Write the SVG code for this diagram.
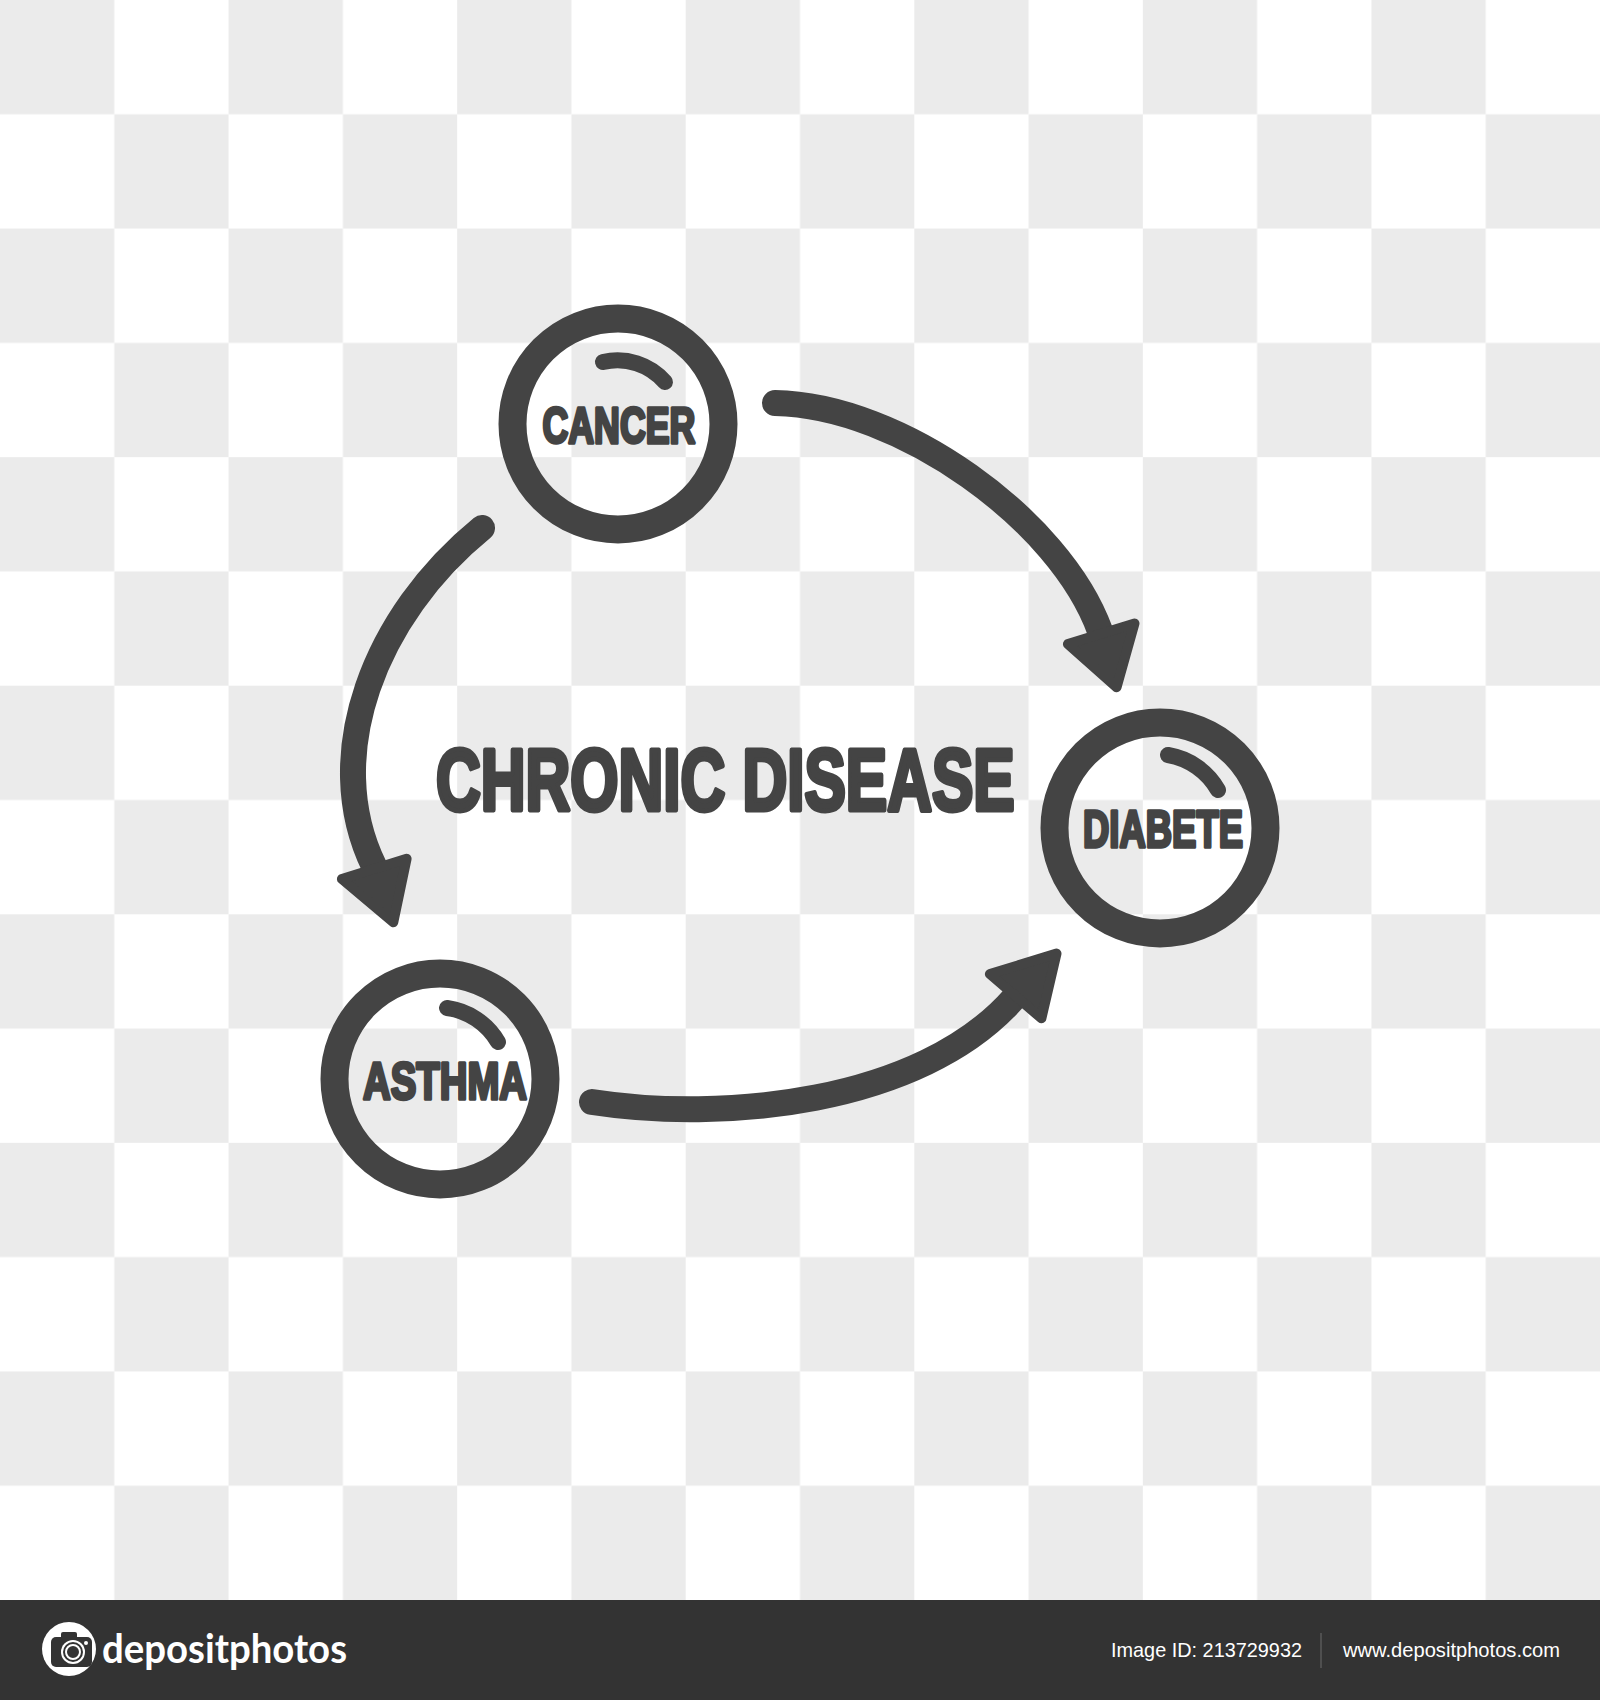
<svg xmlns="http://www.w3.org/2000/svg" width="1600" height="1700" viewBox="0 0 1600 1700">
  <defs>
    <pattern id="checker" x="0" y="0" width="228.5714" height="228.5714" patternUnits="userSpaceOnUse">
      <rect x="0" y="0" width="228.5714" height="228.5714" fill="#ffffff"/>
      <rect x="0" y="0" width="114.2857" height="114.2857" fill="#ebebeb"/>
      <rect x="114.2857" y="114.2857" width="114.2857" height="114.2857" fill="#ebebeb"/>
    </pattern>
    <style>
      .ring { fill: none; stroke: #444444; stroke-width: 28; }
      .tick { fill: none; stroke: #444444; stroke-width: 16; stroke-linecap: round; }
      .lbl { font-family: "Liberation Sans", Arial, sans-serif; font-weight: bold; fill: #444444; stroke: #444444; stroke-width: 3.5; stroke-linejoin: round; }
      .title { font-family: "Liberation Sans", Arial, sans-serif; font-weight: bold; fill: #444444; stroke: #444444; stroke-width: 5; stroke-linejoin: round; }
      .conn { fill: none; stroke: #444444; stroke-width: 26; stroke-linecap: round; }
      .head { fill: #444444; stroke: #444444; stroke-width: 10; stroke-linejoin: round; }
      .foot { font-family: "Liberation Sans", Arial, sans-serif; fill: #ffffff; font-size: 21px; }
    </style>
  </defs>

  <!-- background -->
  <rect x="0" y="0" width="1600" height="1600" fill="url(#checker)"/>

  <!-- connectors -->
  <g id="connectors">
    <path class="conn" d="M482,528 C375,615 320,755 374,866"/>
    <polygon class="head" points="341.9,879 406.6,858.7 393.3,922.3"/>
    <path class="conn" d="M775,403 C900,405 1060,520 1100,631"/>
    <polygon class="head" points="1067.9,644 1134.5,623.5 1116.6,687.2"/>
    <path class="conn" d="M592,1102 C720,1122 920,1105 1014,998"/>
    <polygon class="head" points="989.9,974 1041.4,1018.3 1056.5,953.6"/>
  </g>

  <!-- nodes -->
  <g id="node-cancer">
    <circle class="ring" cx="618" cy="424" r="105.5"/>
    <path class="tick" d="M603,362 A63,63 0 0 1 665,382"/>
    <text class="lbl" transform="translate(542.5,442.5) scale(0.715,1)" x="0" y="0" font-size="50">CANCER</text>
  </g>

  <g id="node-diabete">
    <circle class="ring" cx="1160" cy="828" r="105.5"/>
    <path class="tick" d="M1168,755 A71,71 0 0 1 1218,790"/>
    <text class="lbl" transform="translate(1083,846.5) scale(0.705,1)" x="0" y="0" font-size="51.7">DIABETE</text>
  </g>

  <g id="node-asthma">
    <circle class="ring" cx="440" cy="1079" r="105.5"/>
    <path class="tick" d="M447,1008 A70,70 0 0 1 498,1042"/>
    <text class="lbl" transform="translate(363,1098.5) scale(0.742,1)" x="0" y="0" font-size="51.7">ASTHMA</text>
  </g>

  <g id="node-title">
    <text class="title" transform="translate(436,809.5) scale(0.716,1)" x="0" y="0" font-size="86.6">CHRONIC DISEASE</text>
  </g>

  <!-- footer banner -->
  <g id="footer">
    <rect x="0" y="1600" width="1600" height="100" fill="#333333"/>
    <circle cx="69" cy="1649" r="27" fill="#ffffff"/>
    <rect x="51" y="1637" width="41" height="30" rx="5" fill="#333333"/>
    <rect x="61" y="1632" width="16" height="8" rx="2" fill="#333333"/>
    <circle cx="73" cy="1652" r="12" fill="#ffffff"/>
    <circle cx="73" cy="1652" r="10" fill="#333333"/>
    <circle cx="73" cy="1652" r="7" fill="none" stroke="#ffffff" stroke-width="2"/>
    <circle cx="86" cy="1643" r="2" fill="#ffffff"/>
    <text x="102" y="1663" font-family="Lato, 'Open Sans', sans-serif" font-weight="bold" font-size="41" fill="#ffffff" textLength="245" lengthAdjust="spacingAndGlyphs">depositphotos</text>
    <text class="foot" x="1111" y="1657" textLength="191" lengthAdjust="spacingAndGlyphs">Image ID: 213729932</text>
    <line x1="1321" y1="1633" x2="1321" y2="1668" stroke="#5a5a5a" stroke-width="1.5"/>
    <text class="foot" x="1343" y="1657" textLength="217" lengthAdjust="spacingAndGlyphs">www.depositphotos.com</text>
  </g>
</svg>
